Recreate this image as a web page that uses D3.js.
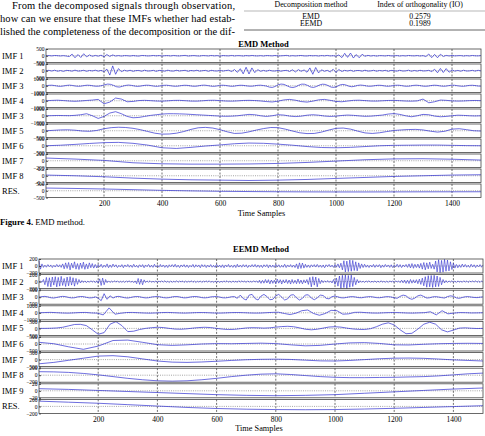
<!DOCTYPE html>
<html>
<head>
<meta charset="utf-8">
<script src="https://cdn.jsdelivr.net/npm/d3@7"></script>
<style>
  body { margin: 0; background: #fff; }
  svg { display: block; font-family: "Liberation Serif", "DejaVu Serif", serif; }
</style>
</head>
<body>
<svg id="chart" width="485" height="436"></svg>
<script>
// ---------------- data ----------------
const xTicks = [200, 400, 600, 800, 1000, 1200, 1400];

const bodyLines = [
  'From the decomposed signals through observation,',
  'how can we ensure that these IMFs whether had estab-',
  'lished the completeness of the decomposition or the dif-'
];
const tableHead = ['Decomposition method', 'Index of orthogonality (IO)'];
const tableMethods = ['EMD', 'EEMD'];
const tableIO = ['0.2579', '0.1989'];

// EMD rows (evenly spaced over 0..1500 samples)
const emdLabels = ['IMF 1', 'IMF 2', 'IMF 3', 'IMF 4', 'IMF 3', 'IMF 5', 'IMF 6', 'IMF 7', 'IMF 8', 'RES.'];
const emdLimits = [500, 500, 1000, 1000, 1000, 500, 500, 200, 0.2, 500];

const emdImf1 = [0,15,-10,20,5,-15,10,-20,-60,120,-150,90,-130,150,-80,60,-40,25,-30,40,-70,90,-50,60,-20,15,-25,10,5,-20,15,-10,-25,20,10,-15,-5,20,-10,15,-20,5,10,-15,20,-5,-15,10,25,-20,0,15,-10,-20,15,5,-15,20,-10,10,-25,15,0,-10,20,-15,10,5,-20,15,-10,20,-5,-15,10,-20,15,5,-10,20,-15,-5,10,25,-20,10,-15,5,20,-10,-15,15,-5,10,-20,15,-10,25,-15,5,-30,60,-140,180,-120,200,-170,90,-150,110,-40,30,-20,15,-25,10,5,-15,20,-10,-5,15,-20,10,-15,20,0,-10,15,-20,10,-60,130,-140,100,-150,110,-50,25,-15,20,-10,5,15,-20,10,-15,20,-5,-10,15];
const emdImf2 = [0,30,-20,40,-35,15,-45,25,10,-30,45,-25,-10,35,-40,20,-15,40,-30,25,-60,120,-320,360,-260,160,-70,40,-25,35,-40,10,20,-35,40,-20,-10,30,-45,25,5,-30,40,-15,-25,35,-20,10,30,-40,20,-15,35,-30,5,25,-40,30,-10,-20,35,-25,15,40,-60,90,-120,150,-230,260,-240,210,-140,80,-40,25,-35,40,-15,-20,30,-35,15,25,-50,70,-90,80,-40,60,-110,210,-260,240,-160,70,-40,30,-90,110,-120,90,-50,30,-20,35,-40,15,20,-30,40,-25,-10,35,-35,20,-15,30,-40,25,5,-30,35,-20,-10,40,-35,20,-25,35,-15,-5,30,-60,110,-150,170,-130,160,-110,60,-30,25,-35,40,-20,-10,30,-25,35,-15];
const emdImf3 = [0,60,80,20,-60,-90,-30,50,90,40,-40,-80,-50,30,80,60,-20,-70,-60,20,150,250,200,50,-150,-200,-80,40,100,60,-30,-90,-60,20,80,70,0,-70,-80,-10,60,80,30,-40,-80,-50,20,70,60,-10,-70,-70,0,70,90,30,-50,-90,-40,40,80,50,-20,-80,-60,20,70,60,0,-60,-70,-10,60,80,30,-50,-200,-250,-100,150,250,200,0,-200,-260,-150,80,240,220,50,-180,-250,-120,100,230,200,20,-200,-240,-100,120,200,120,-60,-150,-80,50,100,60,-30,-80,-50,20,70,60,-10,-70,-60,10,70,80,20,-60,-80,-30,50,80,40,-40,-80,-50,30,80,60,-20,-70,-60,20,80,70,0,-60,-80,-20,50,70,30,-40,-60];
const emdImf4 = [0,50,80,30,-40,-80,-30,40,100,200,-450,-200,400,250,-150,-100,30,60,20,-40,-60,-10,50,60,10,-50,-60,0,60,70,20,-40,-60,-20,40,60,30,-30,-120,-180,-60,120,200,80,-120,-200,-60,130,200,60,-100,-150,-40,60,80,20,-40,-50,0,40,50,10,-40,-60,-20,250,-300,-150,100,60,-20,-50,-30,20,40,10];
const emdImf3b = [0,20,40,30,10,60,150,300,0,-400,-100,400,600,300,-100,-300,-250,-100,50,150,250,300,300,280,250,200,150,100,50,0,-50,-80,-60,0,100,200,150,0,-100,0,150,100,-50,-120,-60,80,150,80,-40,-100,-50,40,100,60,-20,-80,-60,20,100,250,320,200,0,-150,0,200,150,-50,-150,-100,0,80,50,0,-30,0];
const emdImf5 = [0,30,60,70,40,-20,-40,20,150,230,260,240,180,80,-50,-180,-250,-240,-180,-60,100,220,250,200,80,-80,-200,-180,-80,50,160,240,230,120,-20,-150,-210,-200,-100,50,180,200,120,-30,-160,-200,-150,-60,20,60,90,100,60,-30,-100,-40,120,150,80,0,-20];
const emdImf6 = [0,40,100,170,230,250,180,50,-150,-200,-120,-20,60,150,200,180,120,40,-60,-130,-150,-120,-60,0,30,40,50,50,30,10,0];
const emdImf7 = [80,50,10,-60,-90,-100,-100,-95,-80,-50,-10,30,55,60,45,20];
const emdImf8 = [0.02,0,-0.03,-0.07,-0.1,-0.12,-0.13,-0.14,-0.13,-0.11,-0.08,-0.05,-0.02,0,0.02,0.03];
const emdRes = [200,170,130,80,30,-10,-40,-60,-75,-85,-90,-90,-85,-80,-78,-75];
const emdSeries = [emdImf1, emdImf2, emdImf3, emdImf4, emdImf3b, emdImf5, emdImf6, emdImf7, emdImf8, emdRes];

// EEMD rows
const eemdLabels = ['IMF 1', 'IMF 2', 'IMF 3', 'IMF 4', 'IMF 5', 'IMF 6', 'IMF 7', 'IMF 8', 'IMF 9', 'RES.'];
const eemdLimits = [200, 200, 500, 1000, 500, 500, 500, 200, 20, 200];

const eemdImf1 = [
  150,-90,60,-40,25,-35,40,-20,30,-45,20,-30,45,-25,35,-40,60,-80,90,-70,
  100,-110,80,-60,120,-90,70,-100,85,-70,110,-95,60,-80,90,-50,70,-60,45,-55,
  40,-30,50,-45,25,-35,60,-50,30,-40,55,-25,35,-45,20,-30,40,-50,30,-20,
  45,-35,25,-40,50,-30,20,-45,35,-25,40,-50,30,-20,45,-35,25,-40,50,-30,
  20,-35,45,-25,30,-40,25,-45,35,-20,40,-30,50,-35,25,-45,30,-25,40,-35,
  30,-45,20,-30,45,-40,35,-25,30,-50,40,-20,35,-45,25,-30,40,-35,20,-40,
  45,-30,25,-40,35,-50,30,-25,45,-35,20,-40,30,-45,50,-30,25,-35,40,-25,
  35,-45,20,-30,40,-25,45,-35,30,-40,25,-45,35,-20,40,-50,30,-35,25,-40,
  45,-30,35,-40,20,-35,50,-45,30,-25,40,-35,25,-45,60,-80,90,-70,85,-60,
  50,-40,30,-45,35,-25,40,-30,45,-35,25,-40,30,-50,35,-20,45,-30,25,-40,
  40,-35,60,-50,80,-110,150,-170,140,-160,170,-150,160,-130,120,-140,90,-70,60,-45,
  50,-35,30,-45,25,-30,45,-40,35,-25,40,-50,30,-35,45,-25,30,-40,35,-45,
  25,-30,50,-35,40,-45,30,-25,45,-40,60,-55,70,-65,50,-45,55,-60,75,-90,
  100,-110,90,-80,110,-70,50,-90,140,-170,180,-190,160,-175,190,-150,170,-140,120,-100,
  80,-60,45,-50,35,-40,55,-30,45,-35,25,-40,50,-30,35,-45,30,-25,40,-35,
  30];
const eemdImf2 = [
  0,10,-20,60,-90,120,-140,110,-150,130,-100,140,-150,120,-130,150,-110,90,-140,130,
  -120,140,-100,110,-130,90,-80,60,-40,30,-25,20,-30,15,-20,25,-15,20,-30,25,
  -40,80,-110,100,-90,60,-30,20,-25,15,-20,25,-15,20,-25,10,-20,15,-25,20,
  -15,25,-20,15,-30,20,-60,90,-80,70,-90,50,-25,20,-15,25,-20,10,-15,20,
  -25,15,-10,20,-15,25,-20,10,-25,15,-20,10,-15,25,-20,15,-10,20,-25,15,
  -20,10,-15,25,-20,15,-25,10,-15,20,-25,15,-10,20,-15,25,-20,10,-25,15,
  -20,15,-25,10,-15,20,-10,25,-20,15,-25,20,-15,10,-20,25,-15,20,-10,15,
  -25,20,-15,10,-20,25,-15,20,-30,40,-50,35,-45,60,-40,55,-65,45,-50,40,
  -60,70,-45,55,-70,50,-40,60,-55,45,-70,60,-50,40,-60,75,-55,45,-65,50,
  -40,60,-80,120,-150,140,-100,130,-150,90,-60,40,-30,25,-20,30,-25,20,-40,60,
  -80,100,-130,160,-190,180,-170,190,-200,175,-160,185,-140,120,-90,60,-40,25,-20,15,
  -25,20,-15,25,-20,10,-15,20,-25,15,-20,25,-15,10,-20,15,-25,20,-10,15,
  -20,25,-15,20,-30,40,-35,45,-50,40,-55,60,-45,50,-40,55,-60,70,-80,100,
  -120,140,-160,170,-150,175,-165,180,-150,160,-140,120,-90,60,-40,30,-25,20,-15,25,
  -20,15,-25,20,-15,10,-20,25,-15,20,-25,15,-10,20,-15,25,-20,15,-25,20,
  -15];
const eemdImf3 = [0,40,60,20,-40,-60,-20,30,60,40,-20,-50,-40,20,50,40,-10,-50,-40,20,-60,-250,250,-150,100,-60,40,60,10,-40,-60,-20,30,50,30,-20,-50,-40,10,40,50,20,-30,-50,-30,20,50,40,-10,-50,-40,10,40,50,20,-30,-50,-30,20,40,50,10,-40,-50,-20,30,40,-80,150,-100,-200,150,200,-100,-200,80,200,50,-180,-150,100,200,0,-200,-120,150,180,-50,-200,-80,160,170,-60,-180,-50,150,120,-80,-120,40,80,20,-40,-50,-10,30,40,10,-30,-40,0,30,40,10,-30,-40,-10,30,40,10,-40,-80,60,150,100,-80,-150,-60,100,150,50,-60,-40,20,40,10,-30,-60,40,100,60,-50,-80,-20,30,40,10,-20,-30,0,20];
const eemdImf4 = [0,40,60,20,-30,-50,-10,40,50,-20,-50,-300,700,-200,-60,40,50,10,-30,-50,-20,30,50,20,-20,-40,-10,30,40,10,-30,-40,-10,30,40,20,-20,-40,-30,20,60,80,-100,-250,-50,300,400,-100,-350,-100,350,300,-200,-150,60,80,20,-30,-40,0,30,40,10,-30,-40,-10,20,150,-300,300,-150,-40,30,20,-20,-10,10];
const eemdImf5 = [0,0,10,30,80,180,280,290,200,-100,-420,-300,300,480,200,-230,-200,-80,0,50,80,60,0,-50,-60,-30,20,60,80,60,0,-50,-80,-70,-20,30,50,40,20,40,90,130,150,120,40,-60,-100,-60,20,100,120,90,20,-40,-70,-80,-20,120,300,400,250,-100,-380,-350,-50,300,440,300,-100,-250,-120,20,40,10,-10,0];
const eemdImf6 = [120,20,-200,-380,-150,250,280,120,-50,-100,-60,0,30,20,40,60,30,-60,-130,-100,0,80,100,40,-60,-70,-20,20,40,50,40];
const eemdImf7 = [-300,-200,-50,100,250,280,200,50,-100,-180,-200,-170,-120,-60,-10,20,30,10,-40,-90,-100,-60,0,60,100,110,90,40,-20,-60,-100];
const eemdImf8 = [100,95,80,50,10,-40,-90,-130,-160,-170,-160,-130,-90,-40,0,30,40,20,-10,-40,-60,-70,-70,-65,-60,-50,-40,-20,10,40,60];
const eemdImf9 = [6,4,1,-2,-5,-8,-11,-13,-14,-13,-11,-7,-3,1,5,8];
const eemdRes = [150,120,90,50,10,-30,-60,-80,-90,-95,-90,-75,-55,-30,-5,20];
const eemdSeries = [eemdImf1, eemdImf2, eemdImf3, eemdImf4, eemdImf5, eemdImf6, eemdImf7, eemdImf8, eemdImf9, eemdRes];

// ---------------- drawing ----------------
const svg = d3.select('#chart');
const blue = '#2e2ed0';

function fmt(v) {
  return String(v).replace('-', '\u2212');
}

function drawPanel(p) {
  const x = d3.scaleLinear().domain([0, 1500]).range([p.left, p.right]);
  const g = svg.append('g');

  g.append('text')
    .attr('x', (p.left + p.right) / 2).attr('y', p.titleY)
    .attr('text-anchor', 'middle')
    .style('font-size', '8.5px').style('font-weight', 'bold')
    .text(p.title);

  p.series.forEach((vals, i) => {
    const y0 = p.top + i * p.pitch;
    const y = d3.scaleLinear().domain([-p.limits[i], p.limits[i]]).range([y0 + p.boxH, y0]);
    const sx = d3.scaleLinear().domain([0, vals.length - 1]).range([0, 1500]);
    const row = g.append('g');

    // vertical dashed grid
    row.selectAll('line.grid').data(xTicks).join('line')
      .attr('class', 'grid')
      .attr('x1', d => x(d)).attr('x2', d => x(d))
      .attr('y1', y0).attr('y2', y0 + p.boxH)
      .attr('stroke', '#333').attr('stroke-width', 0.7)
      .attr('stroke-dasharray', '2,1.5');

    // zero line
    row.append('line')
      .attr('x1', p.left).attr('x2', p.right)
      .attr('y1', y(0)).attr('y2', y(0))
      .attr('stroke', '#666').attr('stroke-width', 0.6)
      .attr('stroke-dasharray', '1,1.2');

    row.append('path')
      .datum(vals)
      .attr('fill', 'none')
      .attr('stroke', blue)
      .attr('stroke-width', vals.length > 200 ? 0.6 : 0.7)
      .attr('d', d3.line().x((d, j) => x(sx(j))).y(d => y(d)));

    row.append('rect')
      .attr('x', p.left).attr('y', y0)
      .attr('width', p.right - p.left).attr('height', p.boxH)
      .attr('fill', 'none').attr('stroke', '#444').attr('stroke-width', 0.8);

    const ax = row.append('g')
      .attr('transform', `translate(${p.left},0)`)
      .call(d3.axisLeft(y).tickValues([-p.limits[i], 0, p.limits[i]])
        .tickSize(-2).tickPadding(1.5).tickFormat(fmt));
    ax.select('.domain').remove();
    ax.selectAll('line').attr('stroke', '#444');
    ax.selectAll('text')
      .style('font-family', '"Liberation Serif", serif')
      .style('font-size', '5.5px');

    row.append('text')
      .attr('x', 2).attr('y', y0 + p.boxH / 2 + 3)
      .style('font-size', '8.5px')
      .text(p.labels[i]);
  });

  const bottom = p.top + (p.series.length - 1) * p.pitch + p.boxH;
  const xa = g.append('g')
    .attr('transform', `translate(0,${bottom})`)
    .call(d3.axisBottom(x).tickValues(xTicks).tickSize(0).tickPadding(3).tickFormat(d3.format('d')));
  xa.select('.domain').remove();
  xa.selectAll('text')
    .style('font-family', '"Liberation Serif", serif')
    .style('font-size', '7.5px');

  g.append('text')
    .attr('x', (p.left + p.right) / 2 - 2).attr('y', bottom + 18)
    .attr('text-anchor', 'middle')
    .style('font-size', '8.3px')
    .text('Time Samples');
}

// body text (justified lines)
svg.selectAll('text.body').data(bodyLines).join('text')
  .attr('class', 'body')
  .attr('x', (d, i) => i === 0 ? 12 : 0)
  .attr('y', (d, i) => 8.5 + i * 13)
  .attr('textLength', (d, i) => i === 0 ? 223 : 235)
  .attr('lengthAdjust', 'spacing')
  .style('font-size', '10.5px')
  .text(d => d);

// table
const colX = [311, 420];
svg.selectAll('text.head').data(tableHead).join('text')
  .attr('class', 'head')
  .attr('x', (d, i) => colX[i]).attr('y', 7)
  .attr('text-anchor', 'middle').style('font-size', '7.8px')
  .text(d => d);
svg.append('line').attr('x1', 244).attr('x2', 485).attr('y1', 11).attr('y2', 11)
  .attr('stroke', '#888').attr('stroke-width', 0.6);
tableMethods.forEach((m, i) => {
  svg.append('text').attr('x', colX[0]).attr('y', 18.5 + i * 7.5)
    .attr('text-anchor', 'middle').style('font-size', '7.8px').text(m);
  svg.append('text').attr('x', colX[1]).attr('y', 18.5 + i * 7.5)
    .attr('text-anchor', 'middle').style('font-size', '7.8px').text(tableIO[i]);
});
svg.append('line').attr('x1', 244).attr('x2', 485).attr('y1', 30).attr('y2', 30)
  .attr('stroke', '#555').attr('stroke-width', 0.9);

drawPanel({
  title: 'EMD Method', titleY: 47, left: 46, right: 481, top: 49, pitch: 15, boxH: 13.5,
  labels: emdLabels, limits: emdLimits, series: emdSeries
});

// caption
const cap = svg.append('text').attr('x', 0).attr('y', 225).style('font-size', '8.7px');
cap.append('tspan').style('font-weight', 'bold').text('Figure 4.');
cap.append('tspan').text(' EMD method.');

drawPanel({
  title: 'EEMD Method', titleY: 252, left: 39, right: 483, top: 259, pitch: 15.6, boxH: 14,
  labels: eemdLabels, limits: eemdLimits, series: eemdSeries
});
</script>
</body>
</html>
